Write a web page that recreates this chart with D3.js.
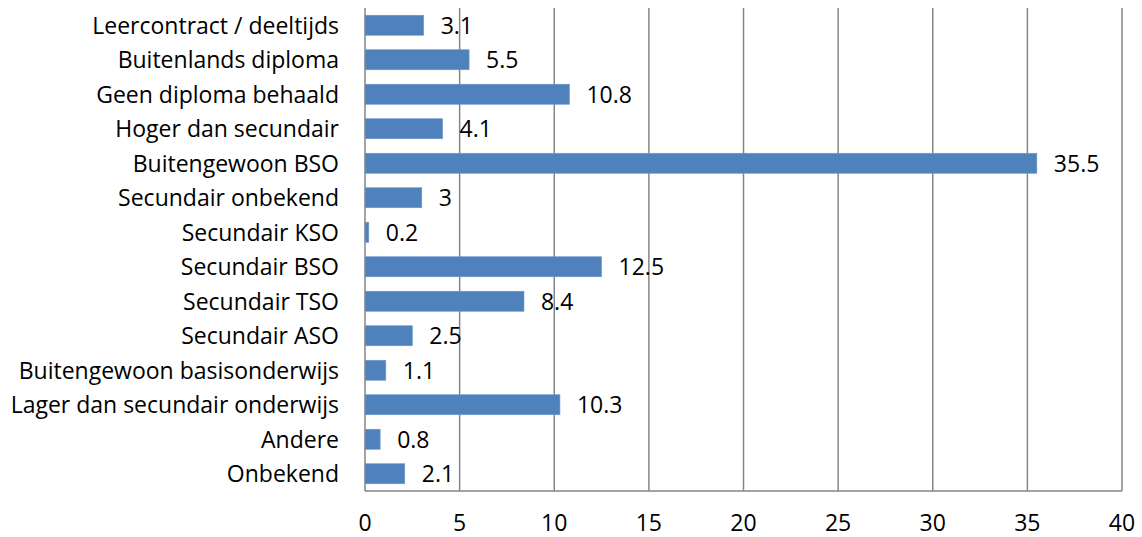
<!DOCTYPE html>
<html><head><meta charset="utf-8">
<script src="https://cdn.jsdelivr.net/npm/d3@7"></script>
<style>body{margin:0;background:#fff}svg{display:block}text{font-family:"Open Sans",sans-serif;fill:#000}</style>
</head><body>
<svg id="c" width="1142" height="537"></svg>
<script>
const categories = ["Leercontract / deeltijds","Buitenlands diploma","Geen diploma behaald","Hoger dan secundair","Buitengewoon BSO","Secundair onbekend","Secundair KSO","Secundair BSO","Secundair TSO","Secundair ASO","Buitengewoon basisonderwijs","Lager dan secundair onderwijs","Andere","Onbekend"];
const values = [3.1,5.5,10.8,4.1,35.5,3,0.2,12.5,8.4,2.5,1.1,10.3,0.8,2.1];
const ticks = [0,5,10,15,20,25,30,35,40];

const svg = d3.select("#c");
const m = {l:365, r:1122, t:8, b:491};
const x = d3.scaleLinear().domain([0,40]).range([m.l, m.r]);
const y = d3.scaleBand().domain(categories).range([m.t, m.b]).paddingInner(0.42).paddingOuter(0.21);
const fs = 23;

// gridlines
svg.append("g").selectAll("line").data(ticks.filter(t=>t>0)).join("line")
  .attr("x1",d=>x(d)).attr("x2",d=>x(d)).attr("y1",m.t).attr("y2",m.b)
  .attr("stroke","#868686").attr("stroke-width",1.5);

// bars
svg.append("g").selectAll("rect").data(values).join("rect")
  .attr("x",x(0)).attr("y",(d,i)=>y(categories[i]))
  .attr("width",d=>x(d)-x(0)).attr("height",y.bandwidth())
  .attr("fill","#4f81bd").attr("stroke","#6c96cc").attr("stroke-width",0.6);

// axis lines
svg.append("line").attr("x1",m.l).attr("x2",m.l).attr("y1",m.t).attr("y2",m.b).attr("stroke","#868686").attr("stroke-width",1.5);
svg.append("line").attr("x1",m.l).attr("x2",m.r).attr("y1",m.b).attr("y2",m.b).attr("stroke","#868686").attr("stroke-width",1.5);

// data labels
svg.append("g").selectAll("text").data(values).join("text")
  .attr("x",d=>x(d)+17).attr("y",(d,i)=>y(categories[i])+y.bandwidth()/2)
  .attr("dy","0.36em").attr("font-size",fs).text(d=>d);

// category labels
svg.append("g").selectAll("text").data(categories).join("text")
  .attr("x",339).attr("y",d=>y(d)+y.bandwidth()/2).attr("dy","0.36em")
  .attr("text-anchor","end").attr("font-size",fs).text(d=>d);

// tick labels
svg.append("g").selectAll("text").data(ticks).join("text")
  .attr("x",d=>x(d)).attr("y",531)
  .attr("text-anchor","middle").attr("font-size",fs).text(d=>d);
</script>
</body></html>
